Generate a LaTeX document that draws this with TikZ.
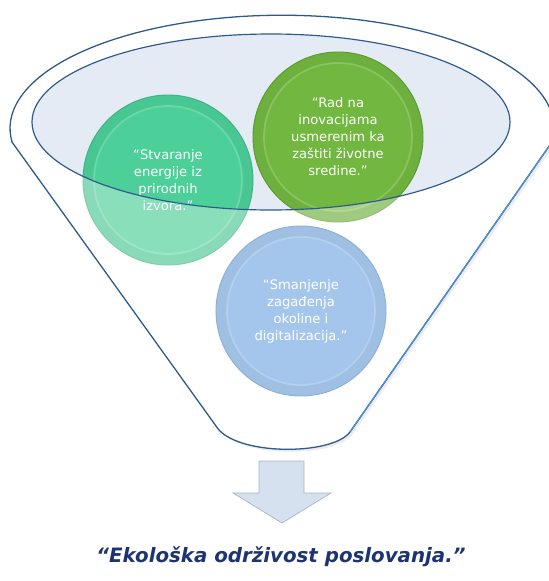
\documentclass[tikz,border=0pt]{standalone}
\usepackage{fontspec}
\newfontfamily\tahomaish{DejaVu Sans}
\usetikzlibrary{shadows}

\definecolor{rimblue}{HTML}{4A8FD4}
\definecolor{rimdark}{HTML}{2D5A8C}
\definecolor{mist}{HTML}{E4EBF5}
\definecolor{tealball}{HTML}{4CCF98}
\definecolor{tealedge}{HTML}{3BB383}
\definecolor{greenball}{HTML}{72B740}
\definecolor{greenedge}{HTML}{5A9B2E}
\definecolor{blueball}{HTML}{A5C6EC}
\definecolor{blueedge}{HTML}{8EB0D8}
\definecolor{arrowfill}{HTML}{D6E1F0}
\definecolor{arrowedge}{HTML}{A8B5C7}
\definecolor{navy}{HTML}{1C3473}

\begin{document}
\begin{tikzpicture}[x=0.03cm, y=-0.03cm,
	rim/.style={draw=rimdark, line width=1.1pt},
	ball/.style={circle, minimum size=5.1cm, inner sep=0pt, align=center, text=white,
		line width=0.8pt, font=\tahomaish\fontsize{11.2}{14.5}\selectfont,
		path picture={
			\draw[black, opacity=.035, line width=9pt] (path picture bounding box.center) circle[radius=2.4cm];
			\draw[white, opacity=.18, line width=1.5pt] (path picture bounding box.center) circle[radius=2.22cm];}},
	goal/.style={text=navy, font=\tahomaish\bfseries\itshape\fontsize{16.9}{20}\selectfont}]
	\useasboundingbox (0,0) rectangle (548,581);

	% funnel
	\draw[rim, fill=white, drop shadow={opacity=.15}] (12,142) -- (216,426)
		.. controls (234,456) and (332,456) .. (350,432) -- (552,142)
		arc[start angle=7, end angle=-187, x radius=272, y radius=113] -- cycle;
	\draw[rimblue, line width=1.1pt] (350,432) -- (552,142);
	\fill[mist] (271,122) ellipse[x radius=239, y radius=88];

	% circles
	\node[ball, fill=tealball, draw=tealedge] (stv) at (168,180) {“Stvaranje\\energije iz\\prirodnih\\izvora.”};
	\node[ball, fill=greenball, draw=greenedge] (rad) at (338,137) {“Rad na\\inovacijama\\usmerenim ka\\zaštiti životne\\sredine.”};
	\node[ball, fill=blueball, draw=blueedge] (sma) at (301,311) {“Smanjenje\\zagađenja\\okoline i\\digitalizacija.”};

	% lighter below the rim
	\foreach \b in {stv, rad} {
		\begin{scope}
			\clip (\b) circle[radius=86];
			\fill[white, opacity=.35, even odd rule] (0,0) rectangle (548,581)
				(271,122) ellipse[x radius=239, y radius=88];
		\end{scope}
	}
	\draw[rimdark, line width=1pt] (271,122) ellipse[x radius=239, y radius=88];

	% arrow and result
	\filldraw[fill=arrowfill, draw=arrowedge, line width=.6pt] (259,461) -- (304,461) -- (304,493)
		-- (331,493) -- (282,523) -- (233,493) -- (259,493) -- cycle;
	\node[goal] (result) at (281,557) {“Ekološka održivost poslovanja.”};
\end{tikzpicture}
\end{document}
